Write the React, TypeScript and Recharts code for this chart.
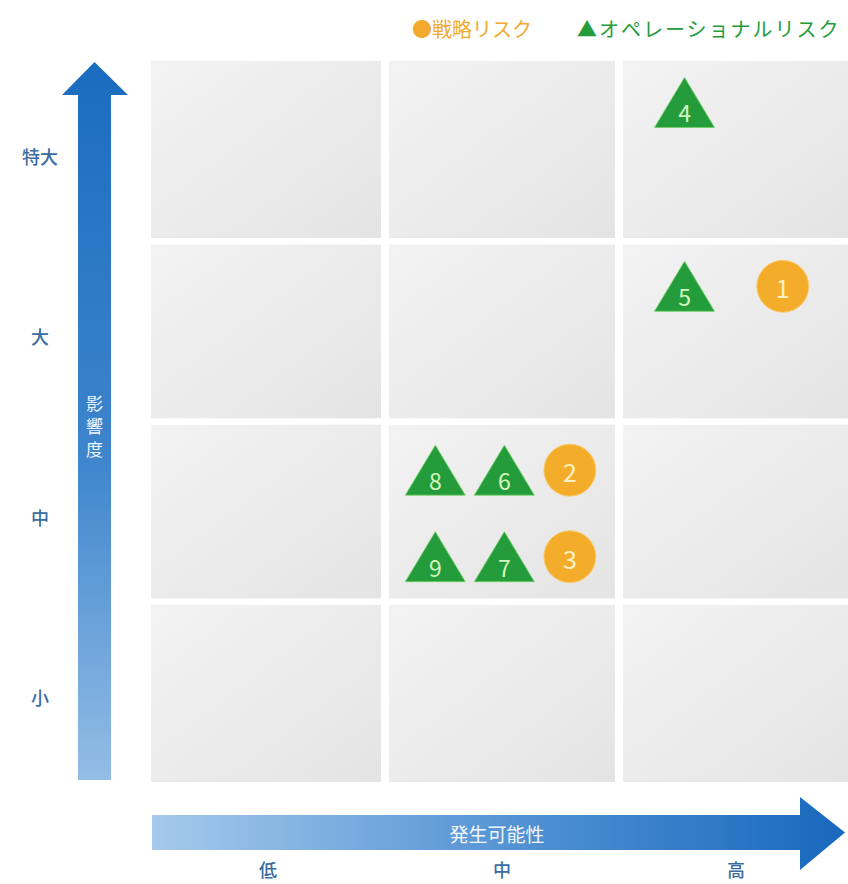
import React from 'react';
import {
  ScatterChart, Scatter, XAxis, YAxis, ReferenceArea, Customized,
} from 'recharts';

// matrix bands
const likelihoodLabels = ['低', '中', '高'];
const impactLabels = ['小', '中', '大', '特大'];
const xTicks = [0.5, 1.5, 2.5];
const yTicks = [0.5, 1.5, 2.5, 3.5];

// risks (x = 発生可能性, y = 影響度)
const strategicRisks = [
  { id: 1, x: 2.7, y: 2.75 },
  { id: 2, x: 1.79, y: 1.73 },
  { id: 3, x: 1.79, y: 1.25 },
];
const operationalRisks = [
  { id: 4, x: 2.28, y: 3.77 },
  { id: 5, x: 2.28, y: 2.75 },
  { id: 6, x: 1.51, y: 1.73 },
  { id: 7, x: 1.51, y: 1.25 },
  { id: 8, x: 1.215, y: 1.73 },
  { id: 9, x: 1.215, y: 1.25 },
];

const WIDTH = 848;
const HEIGHT = 884;
const FONT = '"Noto Sans CJK JP", "Noto Sans", sans-serif';
const GREEN = '#259c3c';
const ORANGE = '#f4ad2b';
const LABEL_BLUE = '#3a6ca2';
const GAP_X = 0.0171;
const GAP_Y = 0.018;

const cells: { x1: number; x2: number; y1: number; y2: number }[] = [];
for (let i = 0; i < likelihoodLabels.length; i++) {
  for (let j = 0; j < impactLabels.length; j++) {
    cells.push({
      x1: i === 0 ? 0 : i + GAP_X,
      x2: i === likelihoodLabels.length - 1 ? i + 1 : i + 1 - GAP_X,
      y1: j === 0 ? 0 : j + GAP_Y,
      y2: j === impactLabels.length - 1 ? j + 1 : j + 1 - GAP_Y,
    });
  }
}

const Triangle = (props: any) => {
  const { cx, cy, payload } = props;
  return (
    <g>
      <path
        d={`M${cx},${cy - 25} L${cx + 30},${cy + 25} L${cx - 30},${cy + 25} Z`}
        fill={GREEN}
        stroke="#6fd065"
        strokeWidth={0.8}
      />
      <text x={cx} y={cy + 10} textAnchor="middle" dominantBaseline="central"
        fontSize={23} fill="#d4f7bd" fontFamily={FONT}>
        {payload.id}
      </text>
    </g>
  );
};

const Circle = (props: any) => {
  const { cx, cy, payload } = props;
  return (
    <g>
      <circle cx={cx} cy={cy} r={26} fill={ORANGE} stroke="#f9cf75" strokeWidth={1} />
      <text x={cx} y={cy + 1} textAnchor="middle" dominantBaseline="central"
        fontSize={25} fill="#fff1c2" fontFamily={FONT}>
        {payload.id}
      </text>
    </g>
  );
};

const YTick = (props: any) => {
  const { y, payload } = props;
  const idx = yTicks.indexOf(payload.value);
  return (
    <text x={40} y={y + 5} textAnchor="middle" dominantBaseline="central"
      fontSize={18} fontWeight={500} fill={LABEL_BLUE} fontFamily={FONT}>
      {impactLabels[idx]}
    </text>
  );
};

const XTick = (props: any) => {
  const { x, payload } = props;
  const idx = xTicks.indexOf(payload.value);
  return (
    <text x={x} y={869} textAnchor="middle" dominantBaseline="central"
      fontSize={18} fontWeight={500} fill={LABEL_BLUE} fontFamily={FONT}>
      {likelihoodLabels[idx]}
    </text>
  );
};

// arrows + legend drawn on top of the svg
const Decorations = () => (
  <g fontFamily={FONT}>
    {/* vertical arrow: 影響度 */}
    <path
      d="M78,780 L78,95 L62,95 L94.5,62 L128,95 L111,95 L111,780 Z"
      fill="url(#yArrowGrad)"
    />
    <text x={94.5} textAnchor="middle" fontSize={17} fill="#eef5fc">
      <tspan x={94.5} y={410}>影</tspan>
      <tspan x={94.5} y={433}>響</tspan>
      <tspan x={94.5} y={456}>度</tspan>
    </text>
    {/* horizontal arrow: 発生可能性 */}
    <path
      d="M152,815 L800,815 L800,797 L845,832.5 L800,870 L800,850 L152,850 Z"
      fill="url(#xArrowGrad)"
    />
    <text x={497} y={833} textAnchor="middle" dominantBaseline="central"
      fontSize={19} fill="#f2f7fd">
      発生可能性
    </text>
    {/* legend */}
    <text x={412} y={37} fontSize={20} fill="#f2aa2e">●戦略リスク</text>
    <text x={577} y={37} fontSize={20} fill={GREEN} letterSpacing={2}>
      ▲オペレーショナルリスク
    </text>
  </g>
);

export default function App() {
  // pinned to the window so svg coordinates match the page and nothing scrolls
  return (
    <div style={{
      position: 'fixed', left: 0, top: 0, width: WIDTH, height: HEIGHT,
      overflow: 'hidden', background: '#fff',
    }}>
      <ScatterChart
        width={WIDTH}
        height={HEIGHT}
        margin={{ top: 61, right: -5, bottom: 0, left: 0 }}
      >
        <defs>
          <linearGradient id="cellGrad" x1="0" y1="0" x2="1" y2="1">
            <stop offset="0%" stopColor="#f3f3f3" />
            <stop offset="100%" stopColor="#e4e4e4" />
          </linearGradient>
          <linearGradient id="yArrowGrad" x1="0" y1="0" x2="0" y2="1">
            <stop offset="0%" stopColor="#1a6cc0" />
            <stop offset="55%" stopColor="#3e85cc" />
            <stop offset="100%" stopColor="#94bde6" />
          </linearGradient>
          <linearGradient id="xArrowGrad" x1="0" y1="0" x2="1" y2="0">
            <stop offset="0%" stopColor="#a6c9ec" />
            <stop offset="55%" stopColor="#4f90d2" />
            <stop offset="100%" stopColor="#1868bd" />
          </linearGradient>
        </defs>
        <XAxis
          type="number"
          dataKey="x"
          domain={[0, 3]}
          ticks={xTicks}
          axisLine={false}
          tickLine={false}
          height={102}
          tick={<XTick />}
          allowDataOverflow
        />
        <YAxis
          type="number"
          dataKey="y"
          domain={[0, 4]}
          ticks={yTicks}
          axisLine={false}
          tickLine={false}
          width={151}
          tick={<YTick />}
          allowDataOverflow
        />
        {cells.map((c, i) => (
          <ReferenceArea
            key={i}
            x1={c.x1}
            x2={c.x2}
            y1={c.y1}
            y2={c.y2}
            fill="url(#cellGrad)"
            fillOpacity={1}
            stroke="none"
          />
        ))}
        <Customized component={<Decorations />} />
        <Scatter
          data={operationalRisks}
          shape={<Triangle />}
          isAnimationActive={false}
        />
        <Scatter
          data={strategicRisks}
          shape={<Circle />}
          isAnimationActive={false}
        />
      </ScatterChart>
    </div>
  );
}
